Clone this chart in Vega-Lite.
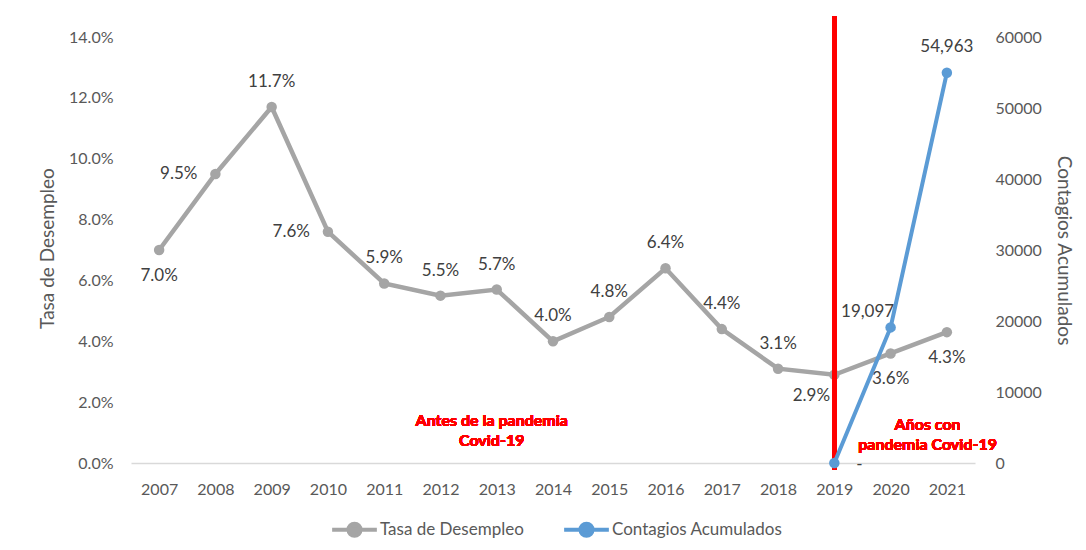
{
  "$schema": "https://vega.github.io/schema/vega-lite/v6.json",
  "width": 844,
  "height": 426,
  "autosize": "none",
  "padding": {"left": 131, "top": 37, "right": 111, "bottom": 87},
  "background": "white",
  "config": {
    "font": "Lato",
    "view": {"stroke": null},
    "axis": {"labelFont": "Lato", "titleFont": "Lato", "labelColor": "#595959", "titleColor": "#595959", "labelFontSize": 16, "titleFontSize": 19, "titleFontWeight": "normal", "grid": false, "ticks": false, "tickSize": 0}
  },
  "data": {
    "values": [
      {"anio": "2007", "tasa": 0.070, "contagios": null, "etiqueta": null},
      {"anio": "2008", "tasa": 0.095, "contagios": null, "etiqueta": null},
      {"anio": "2009", "tasa": 0.117, "contagios": null, "etiqueta": null},
      {"anio": "2010", "tasa": 0.076, "contagios": null, "etiqueta": null},
      {"anio": "2011", "tasa": 0.059, "contagios": null, "etiqueta": null},
      {"anio": "2012", "tasa": 0.055, "contagios": null, "etiqueta": null},
      {"anio": "2013", "tasa": 0.057, "contagios": null, "etiqueta": null},
      {"anio": "2014", "tasa": 0.040, "contagios": null, "etiqueta": null},
      {"anio": "2015", "tasa": 0.048, "contagios": null, "etiqueta": null},
      {"anio": "2016", "tasa": 0.064, "contagios": null, "etiqueta": null},
      {"anio": "2017", "tasa": 0.044, "contagios": null, "etiqueta": null},
      {"anio": "2018", "tasa": 0.031, "contagios": null, "etiqueta": null},
      {"anio": "2019", "tasa": 0.029, "contagios": 0, "etiqueta": "-"},
      {"anio": "2020", "tasa": 0.036, "contagios": 19097, "etiqueta": "19,097"},
      {"anio": "2021", "tasa": 0.043, "contagios": 54963, "etiqueta": "54,963"}
    ]
  },
  "encoding": {
    "x": {
      "field": "anio", "type": "ordinal",
      "scale": {"type": "point", "padding": 0.5},
      "axis": {"title": null, "labelAngle": 0, "labelPadding": 18, "domain": true, "domainColor": "#D9D9D9", "domainWidth": 1.5}
    }
  },
  "layer": [
    {
      "encoding": {
        "y": {
          "field": "tasa", "type": "quantitative",
          "scale": {"domain": [0, 0.14]},
          "axis": {"title": "Tasa de Desempleo", "format": ".1%", "values": [0, 0.02, 0.04, 0.06, 0.08, 0.1, 0.12, 0.14], "domain": false, "labelPadding": 18, "titleX": -84, "titleY": 211, "titleAngle": -90, "titleBaseline": "middle", "titleAlign": "center"}
        }
      },
      "layer": [
        {
          "mark": {"type": "line", "strokeWidth": 4.5},
          "encoding": {
            "color": {"datum": "Tasa de Desempleo", "type": "nominal",
              "scale": {"domain": ["Tasa de Desempleo", "Contagios Acumulados"], "range": ["#A5A5A5", "#5B9BD5"]},
              "legend": {
                "title": null, "orient": "none", "direction": "horizontal", "legendX": 199, "legendY": 468,
                "symbolType": "M-1,0L1,0M-0.27,0A0.27,0.27,0,1,1,0.27,0A0.27,0.27,0,1,1,-0.27,0Z",
                "symbolSize": 2000, "symbolStrokeWidth": 4, "labelFont": "Lato", "labelFontSize": 17, "labelColor": "#595959", "labelOffset": 1, "labelLimit": 400, "columnPadding": 32,
                "encode": {"symbols": {"update": {"fill": {"scale": "color", "field": "value"}, "opacity": {"value": 1}}}}
              }
            }
          }
        },
        {"mark": {"type": "point", "filled": true, "size": 110, "color": "#A5A5A5", "opacity": 1}},
        {
          "transform": [{"filter": {"field": "anio", "oneOf": ["2009", "2011", "2012", "2013", "2014", "2015", "2016", "2017", "2018"]}}],
          "mark": {"type": "text", "dy": -25, "fontSize": 17, "color": "#404040", "font": "Lato"},
          "encoding": {"text": {"field": "tasa", "type": "quantitative", "format": ".1%"}}
        },
        {
          "transform": [{"filter": {"field": "anio", "oneOf": ["2007", "2020", "2021"]}}],
          "mark": {"type": "text", "dy": 26, "fontSize": 17, "color": "#404040", "font": "Lato"},
          "encoding": {"text": {"field": "tasa", "type": "quantitative", "format": ".1%"}}
        },
        {
          "transform": [{"filter": {"field": "anio", "oneOf": ["2008", "2010"]}}],
          "mark": {"type": "text", "dx": -18, "align": "right", "fontSize": 17, "color": "#404040", "font": "Lato"},
          "encoding": {"text": {"field": "tasa", "type": "quantitative", "format": ".1%"}}
        },
        {
          "transform": [{"filter": {"field": "anio", "equal": "2019"}}],
          "mark": {"type": "text", "dx": -23, "dy": 21, "fontSize": 17, "color": "#404040", "font": "Lato"},
          "encoding": {"text": {"field": "tasa", "type": "quantitative", "format": ".1%"}}
        },
        {
          "mark": {"type": "rule", "color": "#FF0000", "strokeWidth": 4.5},
          "encoding": {"x": {"datum": "2019"}, "y": {"datum": 0.1468}, "y2": {"datum": -0.0023}}
        },
        {
          "mark": {"type": "text", "text": ["Antes de la pandemia", "Covid-19"], "color": "#FF0000", "fontWeight": "bold", "fontSize": 16, "lineHeight": 20, "dx": -5, "font": "Lato"},
          "encoding": {"x": {"datum": "2013"}, "y": {"datum": 0.0138}}
        },
        {
          "mark": {"type": "text", "text": ["Años con", "pandemia Covid-19"], "color": "#FF0000", "fontWeight": "bold", "fontSize": 16, "lineHeight": 20, "dx": 37, "font": "Lato"},
          "encoding": {"x": {"datum": "2020"}, "y": {"datum": 0.0125}}
        }
      ]
    },
    {
      "encoding": {
        "y": {
          "field": "contagios", "type": "quantitative",
          "scale": {"domain": [0, 60000]},
          "axis": {"orient": "right", "title": "Contagios Acumulados", "format": "d", "values": [0, 10000, 20000, 30000, 40000, 50000, 60000], "domain": false, "labelPadding": 20, "titleX": 88, "titleY": 213, "titleAngle": 90, "titleBaseline": "middle", "titleAlign": "center"}
        }
      },
      "layer": [
        {
          "mark": {"type": "line", "strokeWidth": 4},
          "encoding": {"color": {"datum": "Contagios Acumulados", "type": "nominal"}}
        },
        {"mark": {"type": "point", "filled": true, "size": 110, "color": "#5B9BD5", "opacity": 1}},
        {
          "transform": [{"filter": {"field": "anio", "equal": "2019"}}],
          "mark": {"type": "text", "dx": 25, "dy": 2, "fontSize": 17, "color": "#404040", "font": "Lato"},
          "encoding": {"text": {"field": "etiqueta", "type": "nominal"}}
        },
        {
          "transform": [{"filter": {"field": "anio", "equal": "2020"}}],
          "mark": {"type": "text", "dx": -23, "dy": -15, "fontSize": 17, "color": "#404040", "font": "Lato"},
          "encoding": {"text": {"field": "etiqueta", "type": "nominal"}}
        },
        {
          "transform": [{"filter": {"field": "anio", "equal": "2021"}}],
          "mark": {"type": "text", "dy": -26, "fontSize": 17, "color": "#404040", "font": "Lato"},
          "encoding": {"text": {"field": "etiqueta", "type": "nominal"}}
        }
      ]
    }
  ],
  "resolve": {"scale": {"y": "independent"}}
}
